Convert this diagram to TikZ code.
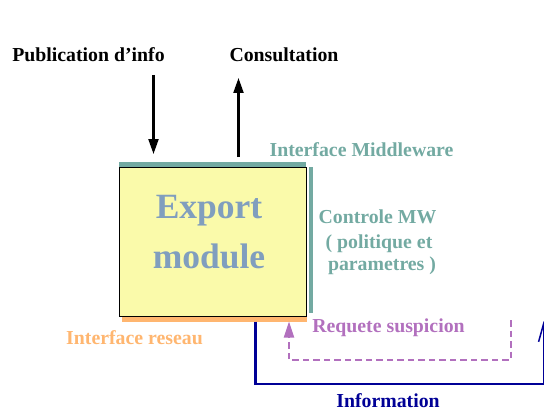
\documentclass[tikz,border=0pt]{standalone}
\usepackage{fontspec}
\setmainfont{Liberation Serif}
\usetikzlibrary{arrows.meta}
\definecolor{tealbar}{RGB}{115,170,162}
\definecolor{exportblue}{RGB}{128,158,190}
\definecolor{orangebar}{RGB}{255,182,112}
\definecolor{purpleline}{RGB}{178,112,190}
\definecolor{navyline}{RGB}{0,0,150}
\definecolor{boxfill}{RGB}{250,250,170}
\begin{document}
\begin{tikzpicture}[x=1pt,y=-1pt,
  lbl/.style={font=\fontsize{19.8}{22}\selectfont\bfseries, inner sep=0pt},
  bigtxt/.style={font=\fontsize{35.5}{50}\selectfont\bfseries, text=exportblue, align=center, inner sep=0pt},
  blackarr/.style={line width=2.2pt, -{Triangle[length=15pt,width=10pt]}},
  modbox/.style={draw=black, line width=1pt, fill=boxfill, minimum width=187pt, minimum height=149pt, inner sep=0pt, outer sep=0pt}]
\useasboundingbox (0,0) rectangle (544,412);
% module box
\node[modbox] (box) at (213,241.5) {};
\node[bigtxt] (boxtext) at (209,232) {Export\\module};
% interface bars
\fill[tealbar] (119,162) rectangle (306,166.5);
\fill[tealbar] (308.5,167) rectangle (312.8,313);
\fill[orangebar] (121.7,317.3) rectangle (307,321.7);
% top arrows
\coordinate (pubstart) at (153.5,75);
\coordinate (pubend) at (153.5,154);
\coordinate (consstart) at (238.5,157);
\coordinate (consend) at (238.5,78);
\draw[blackarr] (pubstart) -- (pubend);
\draw[blackarr] (consstart) -- (consend);
% information loop
\coordinate (infoa) at (255.5,321.7);
\coordinate (infob) at (255.5,384.3);
\coordinate (infoc) at (543.6,384.3);
\coordinate (infod) at (543.6,321);
\draw[navyline, line width=2.2pt, -{Straight Barb[length=18pt,width=10pt,line width=1.5pt]}] (infoa) -- (infob) -- (infoc) -- (infod);
% suspicion request
\coordinate (reqa) at (510.7,320);
\coordinate (reqb) at (510.7,360);
\coordinate (reqc) at (289,360);
\coordinate (reqd) at (289,321.5);
\draw[purpleline, line width=2.2pt, dash pattern=on 6.5pt off 4pt, -{Triangle[length=16pt,width=10pt]}] (reqa) -- (reqb) -- (reqc) -- (reqd);
% labels
\node[lbl] (pub) at (88.5,55) {Publication d’info};
\node[lbl] (cons) at (284,55) {Consultation};
\node[lbl, text=tealbar] (imw) at (361.5,150) {Interface Middleware};
\node[lbl, text=tealbar] (ctrl) at (377.5,217) {Controle MW};
\node[lbl, text=tealbar] (pol) at (379,244) {( politique et};
\node[lbl, text=tealbar] (par) at (382,266) {parametres )};
\node[lbl, text=orangebar] (ires) at (134.5,337.5) {Interface reseau};
\node[lbl, text=purpleline] (req) at (388.5,327.5) {Requete suspicion};
\node[lbl, text=navyline] (info) at (388,401) {Information};
\end{tikzpicture}
\end{document}
